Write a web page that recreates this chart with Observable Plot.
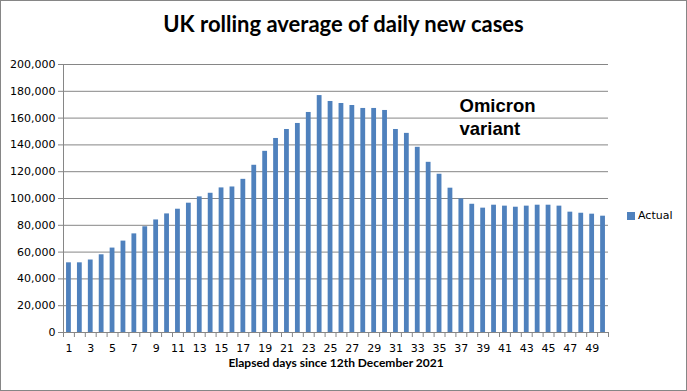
<!DOCTYPE html>
<html><head><meta charset="utf-8">
<script src="https://cdn.jsdelivr.net/npm/d3@7"></script>
<script src="https://cdn.jsdelivr.net/npm/@observablehq/plot@0.6"></script>
<style>
body{margin:0;background:#fff}
#chart{position:relative;box-sizing:border-box;width:687px;height:391px;border:1px solid #868686;overflow:hidden;background:#fff}
#title{position:relative;top:9px;height:49px;margin-bottom:0;line-height:52px;text-align:center;font:bold 22px Lato,sans-serif;color:#000;white-space:nowrap}
#plot{position:absolute;left:0;top:49px}
#legend{position:absolute;left:626px;top:208px;font:11px "DejaVu Sans",sans-serif;display:flex;align-items:center;gap:3px}
#legend span.sw{display:inline-block;width:8px;height:8px;background:#4F81BD}
svg{display:block}
</style></head>
<body>
<div id="chart">
  <div id="title">UK rolling average of daily new cases</div>
  <div id="plot"></div>
  <div id="legend"><span class="sw"></span><span>Actual</span></div>
</div>
<script>
const days = d3.range(1, 51);
const cases = [52000,52000,54100,58000,63000,68200,73600,78900,84000,88500,
  92000,96500,101200,103900,107900,108600,114300,124800,135200,144800,
  151500,156000,164200,176800,172400,170900,169400,167200,167200,165700,
  151500,148600,138200,127000,118100,107700,99700,95700,92800,95000,
  94300,93500,94300,95000,95000,94300,89800,89000,88300,86800];
const yTicks = [0,20000,40000,60000,80000,100000,120000,140000,160000,180000,200000];
const xLabels = [1,3,5,7,9,11,13,15,17,19,21,23,25,27,29,31,33,35,37,39,41,43,45,47,49];
const xBoundaries = d3.range(0.5, 51, 1);
const xTitle = "Elapsed days since 12th December 2021";
const seriesName = "Actual";
const annotation = "Omicron\nvariant";

const data = days.map((d, i) => ({day: d, value: cases[i]}));
const grey = "#868686";
const tickFont = "DejaVu Sans, sans-serif";

const plot = Plot.plot({
  width: 685,
  height: 340,
  marginTop: 14,
  marginBottom: 58,
  marginLeft: 62,
  marginRight: 78,
  style: {background: "#fff", color: "#000"},
  x: {domain: [0.5, 50.5], axis: null},
  y: {domain: [0, 200000], axis: null},
  marks: [
    Plot.ruleY(yTicks, {stroke: grey, strokeWidth: 1}),
    Plot.rectY(data, {x1: d => d.day - 0.22, x2: d => d.day + 0.22, y: "value", fill: "#4F81BD"}),
    Plot.frame({anchor: "left", stroke: grey}),
    Plot.axisY({ticks: yTicks, tickFormat: d3.format(","), tickSize: 5, tickPadding: 3, stroke: grey, fontSize: 11, fontFamily: tickFont, label: null, color: "#000"}),
    Plot.axisX({ticks: xBoundaries, tickFormat: () => "", tickSize: 5, stroke: grey, label: null}),
    Plot.axisX({ticks: xLabels, tickFormat: d => d, tickSize: 0, tickPadding: 12, fontSize: 11, fontFamily: tickFont, label: null}),
    Plot.ruleY([0], {stroke: grey}),
    Plot.text([xTitle], {frameAnchor: "bottom", dy: 34, fontSize: 12, fontWeight: "bold", fontFamily: "Lato, sans-serif", fill: "#000"}),
    Plot.text([annotation], {frameAnchor: "top-left", dx: 396, dy: 52, textAnchor: "start", lineAnchor: "middle", lineHeight: 1.25, fontSize: 18.5, fontWeight: "bold", fontFamily: "Liberation Sans, Arial, sans-serif", fill: "#000"})
  ]
});
document.getElementById("plot").appendChild(plot);
</script>
</body></html>
